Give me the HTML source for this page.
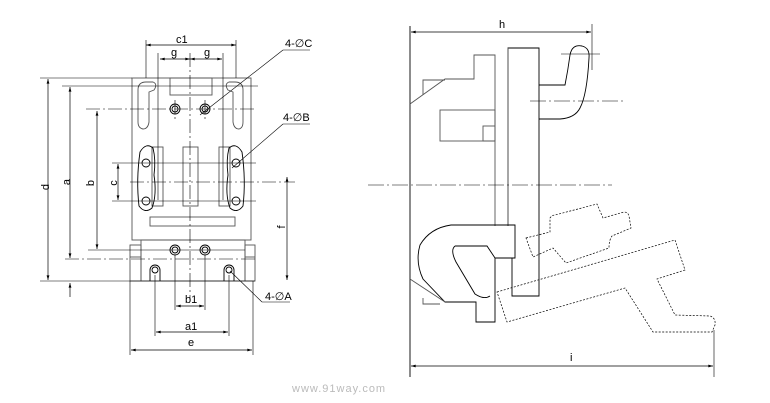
<!DOCTYPE html>
<html><head><meta charset="utf-8"><style>
html,body{margin:0;padding:0;background:#fff;}
svg{display:block;}
text{font-family:"Liberation Sans",sans-serif;font-size:11px;fill:#000;}
</style></head><body>
<svg width="770" height="403" viewBox="0 0 770 403" xmlns="http://www.w3.org/2000/svg">
<defs>
<marker id="ar" viewBox="0 0 10 6" refX="10" refY="3" markerWidth="7" markerHeight="4" orient="auto-start-reverse"><path d="M0,0 L10,3 L0,6 z" fill="#000"/></marker>
</defs>
<g fill="none" stroke="#000" stroke-width="0.9">
<!-- LEFT VIEW -->
<rect x="132" y="78" width="119" height="162" stroke="#555"/>
<rect x="141" y="240" width="104" height="41" stroke="#555"/>
<rect x="130" y="245" width="11" height="36" stroke="#555"/>
<rect x="245" y="245" width="10" height="36" stroke="#555"/>
<line x1="130" y1="257" x2="141" y2="257" stroke="#555"/>
<line x1="245" y1="257" x2="255" y2="257" stroke="#555"/>
<rect x="170" y="78" width="42" height="17" stroke="#555"/>
<path d="M138,90 Q138,82 146,82 L153,82 Q158,84 154,90 L149,92 L149,122 Q148,129 143,129 Q138,128 138,122 Z" stroke="#555"/>
<path d="M243,90 Q243,82 235,82 L229,82 Q224,84 228,90 L233,92 L233,122 Q234,129 239,129 Q243,128 243,122 Z" stroke="#555"/>
<rect x="152" y="147" width="11" height="59" stroke="#555"/>
<rect x="183" y="147" width="15" height="59" stroke="#555"/>
<rect x="219" y="147" width="11" height="59" stroke="#555"/>
<rect x="150" y="217" width="85" height="9" stroke="#555"/>
<path d="M140,152 Q146,142 153,148 Q156,160 154,175 Q157,195 152,208 Q145,214 139,206 Q136,180 140,152 Z"/>
<path d="M242,152 Q236,142 229,148 Q226,160 228,175 Q225,195 230,208 Q237,214 243,206 Q246,180 242,152 Z"/>
<circle cx="175" cy="109" r="5"/><circle cx="175" cy="109" r="3"/>
<circle cx="205" cy="109" r="5"/><circle cx="205" cy="109" r="3"/>
<circle cx="175" cy="250" r="5"/><circle cx="175" cy="250" r="3"/>
<circle cx="205" cy="250" r="5"/><circle cx="205" cy="250" r="3"/>
<circle cx="146" cy="163" r="4"/><circle cx="146" cy="201" r="4"/>
<circle cx="236" cy="163" r="4"/><circle cx="236" cy="201" r="4"/>
<path d="M150,281 L150,270 A5,5 0 0 1 160,270 L160,281"/>
<path d="M224,281 L224,270 A5,5 0 0 1 234,270 L234,281"/>
<circle cx="155" cy="270" r="3"/><circle cx="229" cy="270" r="3"/>
<g stroke-width="0.6" stroke-dasharray="14,3,2,3">
<line x1="190" y1="53" x2="190" y2="300"/>
<line x1="86" y1="109" x2="255" y2="109"/>
<line x1="65" y1="259" x2="255" y2="259"/>
<line x1="130" y1="182" x2="295" y2="182"/>
<line x1="175" y1="100" x2="175" y2="120"/>
<line x1="205" y1="100" x2="205" y2="120"/>
</g>
<g stroke-width="0.6">
<line x1="146" y1="40" x2="146" y2="78"/><line x1="236" y1="40" x2="236" y2="78"/>
<line x1="158" y1="53" x2="158" y2="200"/><line x1="223" y1="53" x2="223" y2="200"/>
<line x1="40" y1="78" x2="132" y2="78"/>
<line x1="40" y1="281" x2="255" y2="281"/>
<line x1="62" y1="86" x2="258" y2="86"/>
<line x1="88" y1="250" x2="245" y2="250"/>
<line x1="112" y1="163" x2="256" y2="163"/>
<line x1="112" y1="201" x2="256" y2="201"/>
<line x1="130" y1="281" x2="130" y2="355"/><line x1="253" y1="281" x2="253" y2="355"/>
<line x1="155" y1="275" x2="155" y2="336"/><line x1="229" y1="275" x2="229" y2="336"/>
<line x1="175" y1="255" x2="175" y2="310"/><line x1="205" y1="255" x2="205" y2="310"/>
<line x1="283" y1="50" x2="200" y2="115"/><line x1="283" y1="50" x2="310" y2="50"/>
<line x1="283" y1="124" x2="232" y2="168"/><line x1="283" y1="124" x2="310" y2="124"/>
<line x1="262" y1="302" x2="230" y2="271"/><line x1="262" y1="302" x2="290" y2="302"/>
</g>
<g stroke-width="0.7">
<line x1="146" y1="45" x2="236" y2="45" marker-start="url(#ar)" marker-end="url(#ar)"/>
<line x1="160" y1="59" x2="190" y2="59" marker-start="url(#ar)" marker-end="url(#ar)"/>
<line x1="190" y1="59" x2="222" y2="59" marker-start="url(#ar)" marker-end="url(#ar)"/>
<line x1="48" y1="79" x2="48" y2="280" marker-start="url(#ar)" marker-end="url(#ar)"/>
<line x1="70" y1="87" x2="70" y2="258" marker-start="url(#ar)" marker-end="url(#ar)"/>
<line x1="97" y1="111" x2="97" y2="249" marker-start="url(#ar)" marker-end="url(#ar)"/>
<line x1="118" y1="164" x2="118" y2="200" marker-start="url(#ar)" marker-end="url(#ar)"/>
<line x1="287" y1="177" x2="287" y2="280" marker-start="url(#ar)" marker-end="url(#ar)"/>
<line x1="70" y1="297" x2="70" y2="283" marker-end="url(#ar)"/>
<line x1="176" y1="306" x2="204" y2="306" marker-start="url(#ar)" marker-end="url(#ar)"/>
<line x1="156" y1="332" x2="228" y2="332" marker-start="url(#ar)" marker-end="url(#ar)"/>
<line x1="131" y1="350" x2="252" y2="350" marker-start="url(#ar)" marker-end="url(#ar)"/>
<line x1="411" y1="32" x2="591" y2="32" marker-start="url(#ar)" marker-end="url(#ar)"/>
<line x1="411" y1="366" x2="713" y2="366" marker-start="url(#ar)" marker-end="url(#ar)"/>
</g>
<!-- RIGHT VIEW -->
<line x1="410" y1="26" x2="410" y2="377"/>
<line x1="592" y1="24" x2="592" y2="70" stroke-width="0.6"/>
<line x1="714" y1="330" x2="714" y2="377" stroke-width="0.6"/>
<path d="M410,104 L445,79 L474,79 L474,55 L495,55 L495,226" stroke="#555"/>
<path d="M423,95 L423,80 L445,80" stroke="#555"/>
<rect x="440" y="110" width="55" height="31" stroke="#555"/>
<rect x="483" y="126" width="12" height="15" stroke="#555"/>
<path d="M508,226 L508,48 L539,48 L539,296 L512,296 L512,258" stroke="#000"/>
<line x1="508" y1="48" x2="508" y2="226" stroke="#555"/>
<path d="M539,85 L565,85 Q568,70 570,55 Q572,44 582,46 Q590,48 589,58 Q587,95 580,108 Q575,118 560,119 L539,119"/>
<line x1="561" y1="54" x2="600" y2="54" stroke-width="0.6"/>
<g stroke-width="0.6" stroke-dasharray="16,3,2,3">
<line x1="530" y1="101" x2="626" y2="101"/>
<line x1="368" y1="185" x2="612" y2="185"/>
</g>
<path d="M515,225 L515,258 L495,258 L495,322 L476,322 L476,302 L445,302 L423,279 Q415,262 420,245 Q430,228 451,225 Z"/>
<path d="M455,246 L487,246 L495,258 M490,296 Q484,300 475,294 L456,262 Q450,250 455,246"/>
<path d="M410,279 L445,302" stroke="#555"/>
<path d="M423,298 L423,304 L440,304" stroke="#555"/>
<g stroke-width="0.7" stroke-dasharray="2,1.5">
<path d="M526,238 L550,232 L550,218 Q552,215 555,215 L597,204 L603,218 L624,212 Q628,212 629,216 L631,228 L612,236 Q609,240 609,248 L566,263 L553,248 L533,257 Z"/>
<path d="M497,292 L675,240 L685,270 L657,279 L675,315 L710,316 Q716,318 715,325 L712,332 L653,332 L625,288 L507,322 Z"/>
</g>
</g>
<text x="176" y="43" font-size="12">c1</text>
<text x="171" y="56" font-size="12">g</text>
<text x="204" y="56" font-size="12">g</text>
<text x="285" y="47">4-∅C</text>
<text x="283" y="121">4-∅B</text>
<text x="265" y="300">4-∅A</text>
<text x="185" y="303">b1</text>
<text x="185" y="330">a1</text>
<text x="188" y="346">e</text>
<text x="45" y="187" transform="rotate(-90 45 187)" text-anchor="middle" font-size="12" dy="4">d</text>
<text x="66" y="182" transform="rotate(-90 66 182)" text-anchor="middle" font-size="12" dy="4">a</text>
<text x="90" y="183" transform="rotate(-90 90 183)" text-anchor="middle" font-size="12" dy="4">b</text>
<text x="113" y="183" transform="rotate(-90 113 183)" text-anchor="middle" font-size="12" dy="4">c</text>
<text x="281" y="227" transform="rotate(-90 281 227)" text-anchor="middle" font-size="12" dy="4">f</text>
<text x="499" y="28" font-size="12">h</text>
<text x="570" y="361" font-size="12">i</text>
<text x="292" y="392" font-family="Liberation Mono" font-size="13" style="fill:#bbb" letter-spacing="1">www.91way.com</text>
</svg>
</body></html>
